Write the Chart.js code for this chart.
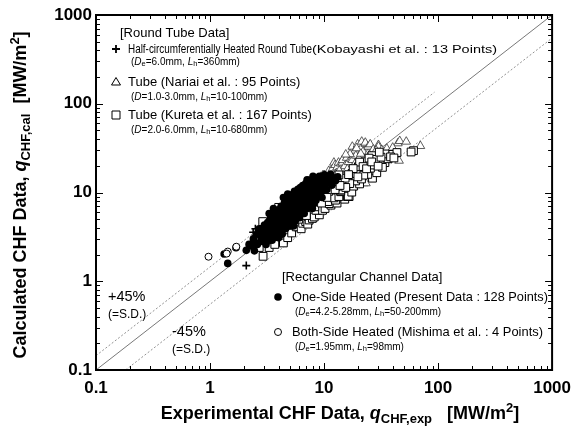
<!DOCTYPE html>
<html>
<head>
<meta charset="utf-8">
<script src="https://cdn.jsdelivr.net/npm/chart.js@4/dist/chart.umd.min.js"></script>
<style>
  html, body { margin: 0; padding: 0; background: #fff; }
  #wrap { width: 579px; height: 434px; }
</style>
</head>
<body>
<div id="wrap"><canvas id="chfChart"></canvas></div>
<script>
// ---- data (MW/m2) ----
const tickValues = [0.1, 1, 10, 100, 1000];
const tickLabels = ["0.1", "1", "10", "100", "1000"];

// reference lines: y = x, y = 1.45x (+45%), y = 0.55x (-45%)
const diagX = [0.1, 1000];
const upperX = [0.1, 93];
const lowerX = [0.182, 1000];
const upperRatio = 1.45;
const lowerRatio = 0.55;

// [x (exp), y (cal)]
const kobayashiPts = [[2.08,1.50],[2.39,3.56],[2.5,3.9],[3.1,3.9],[3.6,3.7],[4.0,4.3],[4.2,3.5],[4.6,5.0],[5.0,5.3],[5.5,6.5],[6.0,7.3],[6.9,8.2],[7.5,9.9]];

const nariaiPts = [[9.4,15.0],[9.8,15.7],[10.1,15.7],[10.8,15.3],[11.0,17.5],[11.9,18.7],[12.2,21.7],[12.5,20.4],[13.0,19.2],[13.4,21.7],[14.0,21.2],[14.5,21.7],[14.5,23.2],[15.2,19.8],[15.8,24.6],[16.4,22.0],[17.4,23.7],[17.7,23.2],[17.7,32.8],[18.3,28.2],[18.6,29.6],[19.0,26.0],[19.7,34.9],[20.2,24.3],[21.4,32.3],[21.4,37.4],[22.0,28.8],[22.3,12.7],[23.0,35.3],[23.0,36.4],[23.3,12.7],[24.4,27.7],[24.4,32.8],[25.4,34.9],[26.3,16.8],[27.0,30.5],[28.5,26.2],[30.0,34.3],[30.0,32.8],[32.1,30.1],[33.5,24.8],[37.4,27.7],[44.4,35.8],[45.5,22.8],[46.1,38.0],[52.6,37.4],[70.0,33.4],[8.6,12.9],[7.3,13.3],[11.5,14.4],[12.8,16.5],[16.0,18.3],[20.5,20.2],[13.6,17.6],[26.0,22.0],[19.3,31.5],[16.9,27.0],[15.5,26.8],[21.0,27.3],[25.0,26.5],[35.5,31.2],[28.6,29.8],[40.0,32.0],[29.0,21.0],[34.0,22.4],[18.8,21.4]];

const kuretaPts = [[2.92,1.91],[3.3,2.4],[3.7,2.6],[4.4,2.9],[4.4,2.7],[4.8,3.1],[5.2,3.5],[5.9,4.1],[5.7,4.1],[6.3,3.9],[6.5,4.5],[6.9,4.7],[7.2,4.4],[7.4,4.9],[7.9,5.1],[8.2,5.3],[9.1,5.6],[8.8,6.3],[8.5,6.3],[9.7,6.3],[10.2,6.6],[11.5,7.2],[11.1,7.5],[13.0,7.6],[10.8,7.9],[12.6,8.2],[15.2,8.4],[12.2,8.7],[13.5,9.0],[16.0,9.0],[16.6,9.0],[16.3,9.1],[17.5,10.1],[14.0,10.2],[14.0,10.4],[14.0,10.7],[18.2,11.8],[20.5,12.5],[14.5,12.7],[8.8,12.7],[18.9,13.5],[21.3,14.2],[26.6,14.5],[24.2,16.0],[29.0,16.7],[19.5,17.1],[22.3,15.7],[25.5,18.8],[27.5,20.4],[34.2,21.7],[30.5,22.5],[32.5,19.2],[23.0,22.2],[36.4,24.0],[26.3,26.0],[39.9,26.9],[34.2,27.2],[43.6,28.2],[60.9,29.6],[16.8,12.6],[15.3,14.5],[20.0,19.5],[17.6,16.4],[12.8,11.6],[11.9,13.8],[10.5,12.1],[9.3,8.3],[10.0,9.5],[6.1,7.8],[5.0,4.3],[4.6,5.3],[3.9,3.3],[3.0,3.8],[2.6,3.2],[2.9,4.7],[3.7,5.1],[4.0,6.8],[3.4,4.5],[4.2,4.1],[5.4,6.3],[7.7,9.0],[7.4,13.3],[20.5,22.0],[28.3,23.6],[31.6,25.0],[24.8,24.4],[22.0,19.6],[18.0,18.6],[16.4,15.9],[13.5,15.8],[4.5,4.5],[5.5,5.8],[6.5,6.4],[7.5,7.0],[8.0,8.5],[9.0,9.5],[3.5,3.6],[5.0,6.0],[6.8,7.8],[9.7,11.5],[11.0,10.3],[12.5,10.8],[15.5,11.4],[19.8,15.0],[23.6,18.5],[26.2,22.1],[29.8,19.8],[38.3,25.2],[6.0,5.0],[7.0,5.5],[8.3,6.9],[9.5,7.6],[10.6,8.8],[13.8,12.0],[3.2,3.0],[2.7,2.4],[41.0,24.5],[58.0,28.6],[30.5,28.5]];

const presentPts = [
  [1.33,2.03],[1.43,1.59],[1.69,2.39],[2.08,2.23],[2.2,2.6],[2.45,2.2],
  [2.3,2.5],[2.4,3.0],[2.5,2.7],[2.6,3.4],[2.6,2.6],[2.7,3.9],[2.8,3.1],[2.8,2.8],[2.9,3.6],[3.0,4.3],[3.0,2.9],[3.1,3.3],[3.1,2.6],
  [3.2,4.6],[3.2,3.8],[3.3,3.0],[3.4,4.1],[3.4,5.2],[3.5,3.5],[3.5,2.9],[3.6,4.7],[3.6,3.9],[3.7,5.6],[3.7,3.2],[3.8,4.4],[3.8,6.0],[3.9,3.6],[3.9,5.0],[4.0,4.1],[4.0,6.4],[4.0,3.1],[3.3,5.8],[3.6,6.6],
  [4.1,5.3],[4.1,3.6],[4.2,7.0],[4.2,4.6],[4.3,5.9],[4.3,3.4],[4.4,6.6],[4.4,4.1],[4.5,7.7],[4.5,5.1],[4.6,3.9],[4.6,6.1],[4.7,8.3],[4.7,4.6],[4.8,5.6],[4.8,7.1],[4.9,4.2],[4.9,6.4],[5.0,8.9],[5.0,5.0],[4.4,8.8],[4.8,9.6],
  [5.1,5.8],[5.1,7.6],[5.2,4.5],[5.3,6.8],[5.3,9.5],[5.4,5.3],[5.4,4.2],[5.5,8.1],[5.5,10.3],[5.6,6.1],[5.6,4.8],[5.7,7.3],[5.8,9.0],[5.8,5.6],[5.9,10.9],[6.0,6.6],[6.0,8.3],[6.1,5.2],[6.2,7.6],[6.2,11.4],[6.3,9.6],[6.4,6.0],[6.4,8.7],[6.5,12.0],[6.5,7.0],
  [6.7,10.2],[6.7,5.8],[6.8,8.0],[6.9,12.6],[7.0,9.1],[7.0,6.6],[7.2,11.0],[7.3,7.6],[7.4,13.2],[7.5,9.6],[7.6,6.9],[7.7,11.8],[7.8,8.4],[7.9,14.0],[7.9,6.6],[8.0,10.4],[8.1,7.4],[8.2,12.5],[8.3,9.2],[8.4,14.6],[8.5,8.2],[7.1,13.9],[8.0,15.2],
  [8.7,11.1],[8.8,13.2],[9.0,9.5],[9.1,15.2],[9.3,12.0],[9.5,10.3],[9.6,8.8],[9.7,14.1],[9.9,11.4],[10.1,15.8],[10.3,12.6],[10.6,10.8],[10.8,14.8],[11.1,13.3],[11.4,16.0],[11.7,12.1],[12.1,14.6],[12.6,13.6],[13.2,15.0]
];

const mishimaPts = [[0.97,1.89],[1.43,2.16],[1.40,2.05],[1.70,2.45]];

// ---- drawing helpers ----
const FF = '"Liberation Sans", Arial, sans-serif';
const f = (size, style) => (style || "") + " " + size + "px " + FF;

function richText(ctx, parts, x, y, align) {
  let w = 0;
  parts.forEach(p => { ctx.font = p[1]; w += ctx.measureText(p[0]).width; });
  let cx = align === "center" ? x - w / 2 : x;
  parts.forEach(p => {
    ctx.font = p[1];
    ctx.fillText(p[0], cx, y + (p[2] || 0));
    cx += ctx.measureText(p[0]).width;
  });
}

// fit a string into a given width by stretching/squeezing it horizontally
function fitText(ctx, text, font, x, y, width) {
  ctx.save();
  ctx.font = font;
  const w = ctx.measureText(text).width;
  ctx.translate(x, y);
  ctx.scale(width / w, 1);
  ctx.fillText(text, 0, 0);
  ctx.restore();
}

function subLine(a, b, c, d) {
  // "(D_e=...mm, L_h=...mm)" style legend sub lines
  const n = f(10), it = f(10, "italic"), s = f(7.5);
  const parts = [["(", n], [a, it]];
  if (b) parts.push([b, s, 2]);
  parts.push([c, n], ["L", it], ["h", s, 2], [d, n]);
  return parts;
}

function symbol(ctx, kind, x, y) {
  ctx.save();
  ctx.strokeStyle = "#000";
  ctx.fillStyle = "#fff";
  ctx.lineWidth = 1;
  ctx.beginPath();
  if (kind === "plus") {
    ctx.lineWidth = 1.8;
    ctx.moveTo(x - 4, y); ctx.lineTo(x + 4, y);
    ctx.moveTo(x, y - 4); ctx.lineTo(x, y + 4);
    ctx.stroke();
  } else if (kind === "tri") {
    ctx.moveTo(x, y - 4.5); ctx.lineTo(x + 4.5, y + 3); ctx.lineTo(x - 4.5, y + 3); ctx.closePath();
    ctx.fill(); ctx.stroke();
  } else if (kind === "sq") {
    ctx.rect(x - 4, y - 4, 8, 8); ctx.fill(); ctx.stroke();
  } else if (kind === "dot") {
    ctx.arc(x, y, 3.8, 0, Math.PI * 2); ctx.fillStyle = "#000"; ctx.fill();
  } else {
    ctx.arc(x, y, 3.5, 0, Math.PI * 2); ctx.fill(); ctx.stroke();
  }
  ctx.restore();
}

const frameAndText = {
  id: "frameAndText",
  afterDatasetsDraw(chart) {
    const { ctx, chartArea: a, scales: { x, y } } = chart;
    ctx.save();
    ctx.strokeStyle = "#000";
    ctx.lineWidth = 1;
    // inward ticks on all four sides
    tickValues.forEach(d => {
      for (let m = 1; m <= 9; m++) {
        const v = d * m;
        if (v > 1000 + 1e-9) break;
        const len = m === 1 ? 7 : 4;
        const px = Math.round(x.getPixelForValue(v)) + 0.5;
        const py = Math.round(y.getPixelForValue(v)) + 0.5;
        ctx.beginPath();
        ctx.moveTo(px, a.bottom); ctx.lineTo(px, a.bottom - len);
        ctx.moveTo(px, a.top); ctx.lineTo(px, a.top + len);
        ctx.moveTo(a.left, py); ctx.lineTo(a.left + len, py);
        ctx.moveTo(a.right, py); ctx.lineTo(a.right - len, py);
        ctx.stroke();
      }
    });
    ctx.lineWidth = 2;
    ctx.strokeRect(a.left, a.top, a.right - a.left, a.bottom - a.top);
    ctx.restore();
  },
  afterDraw(chart) {
    const ctx = chart.ctx;
    ctx.save();
    ctx.fillStyle = "#000";
    ctx.textBaseline = "middle";
    ctx.textAlign = "left";

    // axis titles
    const T = f(18, "bold"), TQ = f(18, "bold italic"), TS = f(13, "bold");
    richText(ctx, [["Experimental CHF Data, ", T], ["q", TQ], ["CHF,exp", TS, 5], ["   [MW/m", T], ["2", TS, -6], ["]", T]], 340, 414, "center");
    ctx.save();
    ctx.translate(21, 195);
    ctx.rotate(-Math.PI / 2);
    richText(ctx, [["Calculated CHF Data, ", T], ["q", TQ], ["CHF,cal", TS, 5], ["  [MW/m", T], ["2", TS, -6], ["]", T]], 0, 0, "center");
    ctx.restore();

    // round tube legend
    const L = f(13);
    ctx.font = L;
    ctx.fillText("[Round Tube Data]", 120, 33);
    symbol(ctx, "plus", 116, 49);
    ctx.font = L;
    ctx.fillText("Half-circumferentially Heated Round Tube", 128, 49, 184);
    fitText(ctx, "(Kobayashi et al. : 13 Points)", f(10), 312, 50, 185);
    richText(ctx, subLine("D", "e", "=6.0mm, ", "=360mm)"), 131, 62);
    symbol(ctx, "tri", 116, 82);
    ctx.font = L;
    ctx.fillText("Tube (Nariai et al. : 95 Points)", 128, 82);
    richText(ctx, subLine("D", "", "=1.0-3.0mm, ", "=10-100mm)"), 131, 97);
    symbol(ctx, "sq", 116, 115);
    ctx.font = L;
    ctx.fillText("Tube (Kureta et al. : 167 Points)", 128, 115);
    richText(ctx, subLine("D", "", "=2.0-6.0mm, ", "=10-680mm)"), 131, 130);

    // rectangular channel legend
    ctx.font = L;
    ctx.fillText("[Rectangular Channel Data]", 282, 277);
    symbol(ctx, "dot", 278, 297);
    ctx.font = L;
    ctx.fillText("One-Side Heated (Present Data : 128 Points)", 292, 297, 256);
    richText(ctx, subLine("D", "e", "=4.2-5.28mm, ", "=50-200mm)"), 295, 312);
    symbol(ctx, "open", 278, 332);
    ctx.font = L;
    ctx.fillText("Both-Side Heated (Mishima et al. : 4 Points)", 292, 332, 251);
    richText(ctx, subLine("D", "e", "=1.95mm, ", "=98mm)"), 295, 347);

    // deviation labels
    ctx.font = f(14.5);
    ctx.fillText("+45%", 108, 297);
    ctx.fillText("-45%", 172, 332);
    ctx.font = f(12);
    ctx.fillText("(=S.D.)", 108, 315);
    ctx.fillText("(=S.D.)", 172, 350);
    ctx.restore();
  }
};

const toXY = pts => pts.map(p => ({ x: p[0], y: p[1] }));
const lineXY = (xs, k) => xs.map(v => ({ x: v, y: v * k }));
const tickText = v => {
  const i = tickValues.findIndex(t => Math.abs(t - v) < t * 1e-6);
  return i >= 0 ? tickLabels[i] : "";
};

const ctxEl = document.getElementById("chfChart");
new Chart(ctxEl, {
  type: "scatter",
  data: {
    datasets: [
      { label: "Mishima", data: toXY(mishimaPts), pointStyle: "circle", pointRadius: 3.5, backgroundColor: "#fff", borderColor: "#000", borderWidth: 1 },
      { label: "Present", data: toXY(presentPts), pointStyle: "circle", pointRadius: 3.8, backgroundColor: "#000", borderColor: "#000", borderWidth: 0 },
      { label: "Kobayashi", data: toXY(kobayashiPts), pointStyle: "cross", pointRadius: 4, borderColor: "#000", borderWidth: 1.6 },
      { label: "Kureta", data: toXY(kuretaPts), pointStyle: "rect", pointRadius: 5.5, backgroundColor: "#fff", borderColor: "#000", borderWidth: 1 },
      { label: "Nariai", data: toXY(nariaiPts), pointStyle: "triangle", pointRadius: 5, backgroundColor: "#fff", borderColor: "#333", borderWidth: 0.8 },
      { label: "y=x", data: lineXY(diagX, 1), showLine: true, pointRadius: 0, borderColor: "#555", borderWidth: 0.8 },
      { label: "+45%", data: lineXY(upperX, upperRatio), showLine: true, pointRadius: 0, borderColor: "#777", borderWidth: 0.8, borderDash: [2, 2] },
      { label: "-45%", data: lineXY(lowerX, lowerRatio), showLine: true, pointRadius: 0, borderColor: "#777", borderWidth: 0.8, borderDash: [2, 2] }
    ]
  },
  options: {
    responsive: true,
    maintainAspectRatio: false,
    devicePixelRatio: 1,
    animation: false,
    events: [],
    layout: { padding: { top: 15, right: 19, left: 0, bottom: 0 } },
    plugins: { legend: { display: false }, tooltip: { enabled: false } },
    scales: {
      x: {
        type: "logarithmic",
        min: 0.1,
        max: 1000,
        grid: { display: false, drawTicks: false },
        border: { display: false },
        afterFit: s => { s.height = 64; },
        ticks: {
          autoSkip: false,
          maxRotation: 0,
          padding: 8,
          color: "#000",
          font: { family: FF, size: 17, weight: "bold" },
          callback: tickText
        }
      },
      y: {
        type: "logarithmic",
        min: 0.1,
        max: 1000,
        grid: { display: false, drawTicks: false },
        border: { display: false },
        afterFit: s => { s.width = 96; },
        ticks: {
          autoSkip: false,
          padding: 4,
          color: "#000",
          font: { family: FF, size: 17, weight: "bold" },
          callback: tickText
        }
      }
    }
  },
  plugins: [frameAndText]
});
</script>
</body>
</html>
